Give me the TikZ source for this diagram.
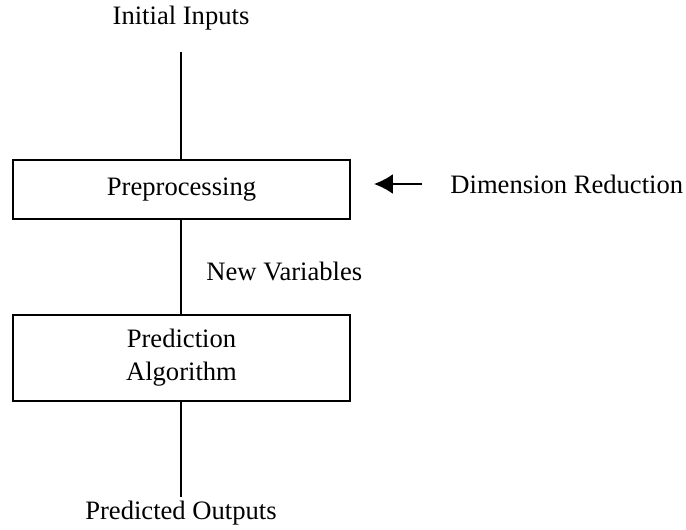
\documentclass[tikz,border=0pt]{standalone}
\usepackage{fontspec}
\setmainfont{Liberation Serif}
\usetikzlibrary{arrows.meta}

\begin{document}
\begin{tikzpicture}[x=0.5pt,y=-0.5pt,
    txt/.style={inner sep=0pt,font=\fontsize{13.3}{16.5}\selectfont},
    stage/.style={draw,line width=0.9pt,minimum width=168.5pt,align=center},
    flow/.style={line width=0.75pt},
    pointer/.style={line width=1.1pt,-{Latex[length=9.5pt,width=10pt]}}]
    \useasboundingbox (0,0) rectangle (686,530);
    \node[txt] (inputs) at (181,18) {Initial Inputs};
    \coordinate (intop) at (181,52);
    \node[txt,stage,minimum height=29.5pt] (pre) at (181.5,189.5) {Preprocessing};
    \node[txt,anchor=west] (newvars) at (206,271) {New Variables};
    \node[txt,stage,minimum height=43pt] (pred) at (181.5,358) {Prediction\\Algorithm};
    \coordinate (outend) at (181,497);
    \node[txt] (outputs) at (181,513) {Predicted Outputs};
    \node[txt,anchor=west] (dimred) at (450,184) {Dimension Reduction};
    % vertical flow
    \draw[flow] (intop) -- (intop |- pre.north);
    \draw[flow] (intop |- pre.south) -- (intop |- pred.north);
    \draw[flow] (intop |- pred.south) -- (outend);
    % side input
    \draw[pointer,shorten <=14pt,shorten >=11.5pt] (dimred.west) -- (dimred.west -| pre.east);
\end{tikzpicture}
\end{document}
